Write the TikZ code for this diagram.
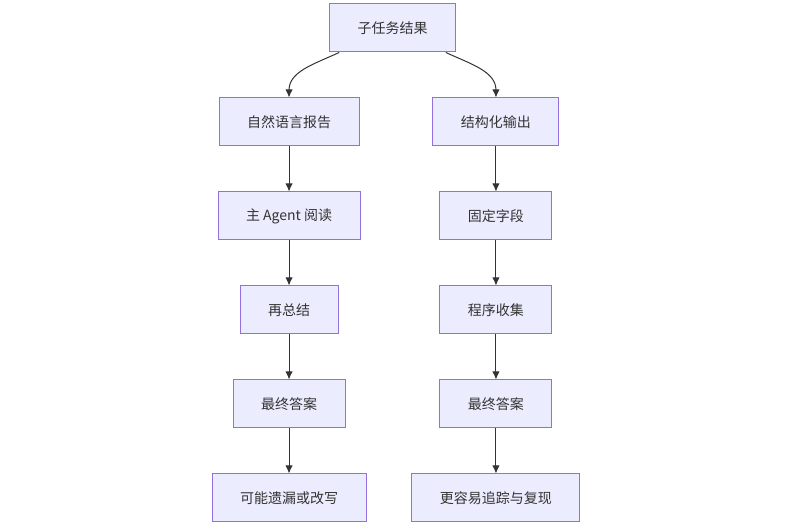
\documentclass[tikz,border=0pt]{standalone}
\usepackage{fontspec}
\usetikzlibrary{arrows.meta, positioning}
\newfontfamily\cjk{Noto Sans CJK SC}
\definecolor{boxfill}{HTML}{ECECFF}
\definecolor{boxline}{HTML}{9370DB}
\definecolor{edgeline}{HTML}{333333}

\begin{document}
\begin{tikzpicture}[x=0.75pt,y=0.75pt,->,>={Latex[length=6pt,width=5.5pt]},auto,node distance=70.5pt,line width=0.75pt]
	\tikzset{box/.style={rectangle,draw=boxline,fill=boxfill,line width=0.75pt,text=edgeline,
		minimum height=36pt,inner xsep=21pt,inner ysep=0pt,font=\cjk\fontsize{10.5}{12.6}\selectfont},
		every edge/.style={draw=edgeline}}
	\useasboundingbox (0,0) rectangle (790,527);
	\node[box] (res) at (392.5,499) {子任务结果};
	% left column
	\node[box] (nlr) [below of=res, xshift=-77.6pt] {自然语言报告};
	\node[box] (read) [below of=nlr] {主 Agent 阅读};
	\node[box] (sum) [below of=read] {再总结};
	\node[box] (ansl) [below of=sum] {最终答案};
	\node[box] (miss) [below of=ansl] {可能遗漏或改写};
	% right column
	\node[box] (out) [below of=res, xshift=77.6pt] {结构化输出};
	\node[box] (field) [below of=out] {固定字段};
	\node[box] (coll) [below of=field] {程序收集};
	\node[box] (ansr) [below of=coll] {最终答案};
	\node[box] (trace) [below of=ansr] {更容易追踪与复现};
	\path
		([xshift=-40pt]res.south) edge[out=205,in=90] (nlr.north)
		([xshift=40pt]res.south) edge[out=-25,in=90] (out.north)
		(nlr) edge (read)
		(read) edge (sum)
		(sum) edge (ansl)
		(ansl) edge (miss)
		(out) edge (field)
		(field) edge (coll)
		(coll) edge (ansr)
		(ansr) edge (trace);
\end{tikzpicture}
\end{document}
